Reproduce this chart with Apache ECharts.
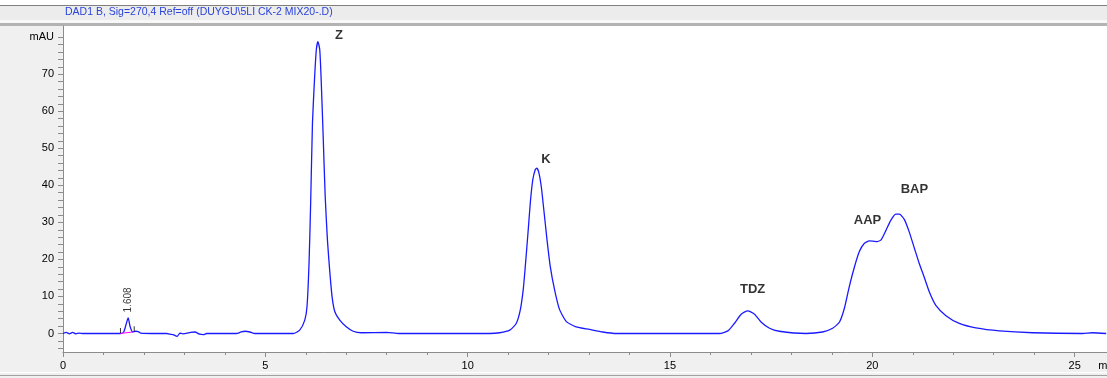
<!DOCTYPE html>
<html>
<head>
<meta charset="utf-8">
<script src="https://cdn.jsdelivr.net/npm/echarts@6/dist/echarts.min.js"></script>
<style>
  html, body { margin: 0; padding: 0; background: #f0f0f0; }
  #chart { width: 1107px; height: 378px; }
</style>
</head>
<body>
<div id="chart"></div>
<script>
// chromatogram trace (retention time in min, absorbance in mAU)
const title = "DAD1 B, Sig=270,4 Ref=off (DUYGU\\5Lİ CK-2 MIX20-.D)";

const time = [
  0.00, 0.08, 0.16, 0.24, 0.32, 0.40, 0.50, 1.00, 1.42, 1.50, 1.56, 1.61, 1.66, 1.72,
  1.80, 1.86, 1.92, 2.20, 2.56, 2.64, 2.72, 2.82, 2.89, 2.96, 3.05, 3.15, 3.26, 3.38,
  3.47, 3.55, 4.00, 4.29, 4.40, 4.50, 4.62, 4.74, 5.20, 5.69, 5.85, 5.975, 6.03, 6.08,
  6.12, 6.165, 6.215, 6.26, 6.30, 6.345, 6.38, 6.43, 6.48, 6.535, 6.59, 6.65, 6.72,
  6.84, 7.00, 7.17, 7.37, 8.00, 8.30, 10.00, 10.54, 10.79, 11.04, 11.20, 11.30, 11.37,
  11.42, 11.49, 11.55, 11.61, 11.67, 11.71, 11.76, 11.82, 11.89, 11.96, 12.04, 12.15,
  12.27, 12.44, 12.68, 13.01, 13.34, 13.67, 15.00, 16.22, 16.43, 16.59, 16.76, 16.92,
  17.09, 17.25, 17.46, 17.70, 18.36, 18.77, 19.02, 19.19, 19.31, 19.43, 19.56, 19.68,
  19.80, 19.93, 20.09, 20.21, 20.34, 20.46, 20.58, 20.67, 20.79, 20.91, 21.04, 21.16,
  21.28, 21.41, 21.57, 21.82, 22.15, 22.56, 23.14, 23.96, 25.19, 25.44, 25.78
];
const signal = [
  0.0, 0.3, -0.1, 0.3, -0.1, 0.1, 0.0, 0.0, 0.0, 0.4, 2.5, 4.2, 1.8, 0.4,
  0.6, 0.5, 0.1, 0.0, 0.0, -0.2, -0.3, -0.8, 0.1, -0.1, 0.0, 0.3, 0.4, -0.2,
  -0.3, 0.0, 0.0, 0.0, 0.4, 0.6, 0.4, 0.0, 0.0, 0.0, 0.9, 3.6, 7.2, 18.9,
  35.1, 56.8, 68.5, 76.6, 78.8, 76.6, 68.5, 53.1, 36.9, 25.2, 17.1, 9.9, 5.8,
  3.6, 1.8, 0.6, 0.2, 0.3, 0.0, 0.0, 0.0, 0.2, 0.9, 2.7, 6.3, 11.5,
  17.5, 27.0, 35.5, 41.5, 44.2, 44.6, 43.4, 39.6, 32.6, 25.4, 18.2, 11.7,
  6.5, 3.2, 1.8, 1.1, 0.4, 0.0, 0.0, 0.0, 0.7, 2.7, 5.2, 6.1,
  5.2, 3.1, 1.4, 0.6, 0.0, 0.4, 1.4, 3.1, 6.8, 12.6, 18.0, 22.1,
  24.3, 25.0, 24.8, 25.2, 27.9, 30.6, 32.2, 32.2, 30.8, 27.5, 23.0, 18.9,
  15.3, 11.2, 7.6, 4.8, 2.7, 1.5, 0.7, 0.2, 0.0, 0.2, 0.0
];

// integration of the small peak
const integTimes = [1.42, 1.72];
const integValues = [0.0, 0.4];
const integMarkTimes = [1.42, 1.76];
const integMarkValues = [0.0, 0.5];
const smallPeakTime = 1.608;
const smallPeakHeight = 4.2;

// named peaks
const peakNames = ["Z", "K", "TDZ", "AAP", "BAP"];
const peakTimes = [6.30, 11.71, 16.92, 19.93, 20.62];
const peakHeights = [78.8, 44.6, 6.1, 25.0, 32.2];

// axes
const xLabelValues = [0, 5, 10, 15, 20, 25, 25.8];
const yLabelValues = [0, 10, 20, 30, 40, 50, 60, 70, 80];
const yTickValues = [-4, -2, 0, 2, 4, 6, 8, 10, 12, 14, 16, 18, 20, 22, 24, 26, 28, 30, 32, 34,
  36, 38, 40, 42, 44, 46, 48, 50, 52, 54, 56, 58, 60, 62, 64, 66, 68, 70, 72, 74, 76, 78, 80];

const labelOffsets = { Z: [21, -6], K: [9, -9], TDZ: [5, -21], AAP: [-2, -20], BAP: [17, -25] };

const font = "'Liberation Sans', Arial, sans-serif";
const axisGray = "#8c8c8c";

const chart = echarts.init(document.getElementById("chart"), null, { renderer: "canvas" });

chart.setOption({
  animation: false,
  backgroundColor: "#f0f0f0",
  textStyle: { fontFamily: font },
  graphic: [
    { type: "rect", shape: { x: 0, y: 0, width: 1107, height: 5 }, style: { fill: "#ffffff" } },
    { type: "rect", shape: { x: 0, y: 5, width: 1107, height: 1 }, style: { fill: "#7f7f7f" } },
    { type: "rect", shape: { x: 0, y: 6, width: 1107, height: 14 }, style: { fill: "#ececec" } },
    { type: "rect", shape: { x: 0, y: 20, width: 1107, height: 3 }, style: { fill: "#f8f8f8" } },
    { type: "rect", shape: { x: 0, y: 23, width: 1107, height: 3 }, style: { fill: "#b3b3b3" } },
    { type: "rect", shape: { x: 0, y: 372, width: 1107, height: 1 }, style: { fill: "#ffffff" } },
    { type: "rect", shape: { x: 0, y: 375, width: 1107, height: 1 }, style: { fill: "#a0a0a0" } },
    {
      type: "text", left: 65, top: 7,
      style: { text: title, fill: "#2a44d8", font: "10.5px " + font }
    }
  ],
  grid: {
    left: 63, right: 0, top: 26, bottom: 26,
    outerBoundsMode: "none", containLabel: false,
    show: true, backgroundColor: "#ffffff", borderWidth: 0
  },
  xAxis: {
    type: "value", min: 0, max: 25.8, interval: 5,
    axisLine: { onZero: false, lineStyle: { color: axisGray } },
    axisTick: { length: 5, lineStyle: { color: axisGray } },
    minorTick: { show: true, splitNumber: 5, length: 3, lineStyle: { color: axisGray } },
    axisLabel: {
      customValues: xLabelValues,
      margin: 8, color: "#000", fontSize: 11,
      formatter: v => (v === 25.8 ? "min" : String(v))
    },
    splitLine: { show: false }
  },
  yAxis: {
    type: "value", min: -5, max: 83,
    axisLine: { show: true, onZero: false, lineStyle: { color: axisGray } },
    axisTick: { show: true, customValues: yTickValues, length: 5, lineStyle: { color: axisGray } },
    axisLabel: {
      customValues: yLabelValues,
      margin: 9, color: "#000", fontSize: 11,
      formatter: v => (v === 80 ? "mAU" : String(v))
    },
    splitLine: { show: false }
  },
  series: [
    {
      name: "signal", type: "line",
      data: time.map((t, i) => [t, signal[i]]),
      showSymbol: false, smooth: 0.2,
      lineStyle: { color: "#1a1aff", width: 1.3 }
    },
    {
      name: "baseline", type: "line",
      data: integTimes.map((t, i) => [t, integValues[i]]),
      showSymbol: false, z: 3,
      lineStyle: { color: "#ff00ff", width: 1 }
    },
    {
      name: "marks", type: "scatter",
      data: integMarkTimes.map((t, i) => [t, integMarkValues[i]]),
      symbol: "rect", symbolSize: [1, 5], symbolOffset: [0, -3],
      itemStyle: { color: "#000" }, z: 4
    },
    {
      name: "rt", type: "scatter",
      data: [[smallPeakTime, smallPeakHeight]],
      symbolSize: 0,
      label: {
        show: true, position: "inside", rotate: 90, offset: [18, 0],
        formatter: () => smallPeakTime.toFixed(3),
        color: "#000", fontSize: 10
      }
    },
    {
      name: "peaks", type: "scatter",
      data: peakNames.map((n, i) => ({
        name: n, value: [peakTimes[i], peakHeights[i]],
        label: { offset: labelOffsets[n] }
      })),
      symbolSize: 0,
      label: {
        show: true, position: "inside", formatter: "{b}",
        color: "#000", fontSize: 13, fontWeight: "bold"
      }
    }
  ]
});
</script>
</body>
</html>
